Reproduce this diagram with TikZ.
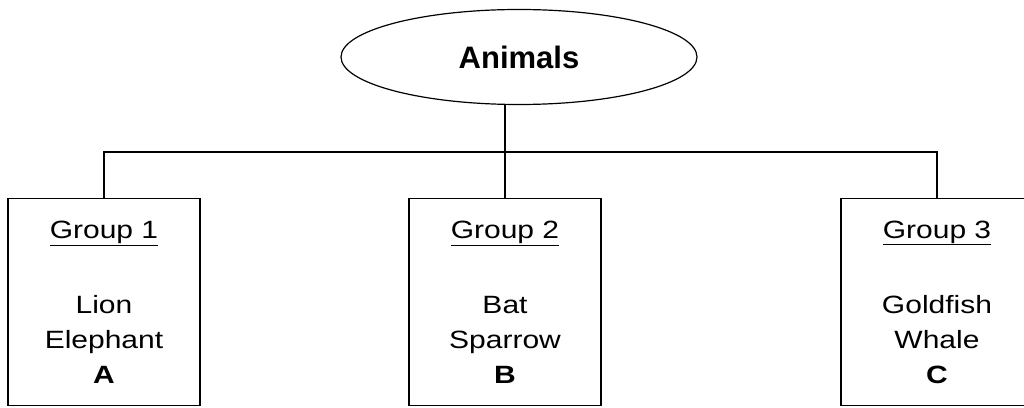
\documentclass[tikz,border=0pt]{standalone}
\usepackage{fontspec}
\setmainfont{Liberation Sans}
\newfontfamily\groupfont[FakeStretch=1.2]{Liberation Sans}
\usetikzlibrary{shapes.geometric}
\tikzstyle{topic} = [ellipse, 
minimum width=356pt, 
minimum height=95pt, 
inner sep=0pt,
text centered, 
draw=black, 
line width=1.2pt,
font=\fontsize{31}{36}\selectfont\bfseries]
\tikzstyle{groupbox} = [rectangle, 
minimum width=192pt, 
minimum height=207pt, 
inner sep=0pt,
align=center, 
draw=black, 
line width=1.2pt,
font=\groupfont\fontsize{25}{35}\selectfont]
\tikzstyle{branch} = [line width=1.2pt]

\begin{document}
\begin{tikzpicture}[x=1pt, y=1pt, node distance=245pt]
    \useasboundingbox (0,0) rectangle (1024,407);

    \node (animals) [topic] at (519,350) {Animals};

    \node (group2) [groupbox, below of=animals, xshift=-14pt] {\underline{Group 2}\\[40pt]
    Bat\\
    Sparrow\\
    \textbf{B}};

    \node (group1) [groupbox, left of=group2, xshift=-156pt] {\underline{Group 1}\\[40pt]
    Lion\\
    Elephant\\
    \textbf{A}};

    \node (group3) [groupbox, right of=group2, xshift=187pt] {\underline{Group 3}\\[40pt]
    Goldfish\\
    Whale\\
    \textbf{C}};

    \coordinate (bar) at (0,255);

    \draw [branch] (group2.north) -- (group2.north |- animals.south);
    \draw [branch] (group1.north) -- (group1.north |- bar) -- (group3.north |- bar) -- (group3.north);
\end{tikzpicture}
\end{document}
